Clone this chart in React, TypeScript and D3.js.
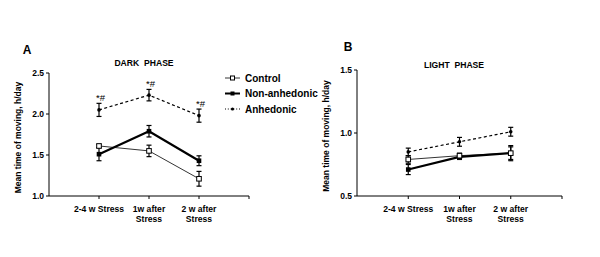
import React from "react";
import * as d3 from "d3";

const categories = [["2-4 w Stress"], ["1w after", "Stress"], ["2 w after", "Stress"]];
const seriesNames = ["Control", "Non-anhedonic", "Anhedonic"];

// Panel A (dark phase)
const darkControl = [1.61, 1.55, 1.21];
const darkControlErr = [0.02, 0.07, 0.09];
const darkNonAnh = [1.51, 1.79, 1.43];
const darkNonAnhErr = [0.08, 0.07, 0.06];
const darkAnh = [2.05, 2.23, 1.98];
const darkAnhErr = [0.08, 0.07, 0.08];
const darkAnnot = ["*#", "*#", "*#"];
const darkTicks = [1.0, 1.5, 2.0, 2.5];

// Panel B (light phase)
const lightControl = [0.79, 0.82, 0.84];
const lightControlErr = [0.03, 0.02, 0.06];
const lightNonAnh = [0.71, 0.81, 0.84];
const lightNonAnhErr = [0.04, 0.02, 0.05];
const lightAnh = [0.85, 0.93, 1.01];
const lightAnhErr = [0.03, 0.035, 0.035];
const lightTicks = [0.5, 1.0, 1.5];

const FONT = "'Liberation Sans', Arial, sans-serif";

type PanelProps = {
  x0: number; x1: number; yTop: number; yBot: number;
  domain: [number, number]; ticks: number[];
  title: string; titleX: number; titleY: number; letter: string; letterX: number; letterY: number;
  control: number[]; controlErr: number[];
  nonAnh: number[]; nonAnhErr: number[];
  anh: number[]; anhErr: number[];
  annot?: string[];
};

function Panel(p: PanelProps) {
  const x = d3.scaleLinear().domain([0, 4]).range([p.x0, p.x1]);
  const y = d3.scaleLinear().domain(p.domain).range([p.yBot, p.yTop]);
  const line = d3.line<number>().x((_, i) => x(i + 1)).y((d) => y(d));
  const idx = [0, 1, 2];

  const errBars = (vals: number[], errs: number[], w: number) =>
    vals.map((v, i) => {
      const cx = x(i + 1);
      const t = y(v + errs[i]);
      const b = y(v - errs[i]);
      return (
        <g key={i} stroke="#000" strokeWidth={w}>
          <line x1={cx} x2={cx} y1={t} y2={b} />
          <line x1={cx - 2.5} x2={cx + 2.5} y1={t} y2={t} />
          <line x1={cx - 2.5} x2={cx + 2.5} y1={b} y2={b} />
        </g>
      );
    });

  return (
    <g fontFamily={FONT} fontWeight="bold" fill="#000">
      <text x={p.letterX} y={p.letterY} fontSize={12} textAnchor="middle">{p.letter}</text>
      <text x={p.titleX} y={p.titleY} fontSize={8.6} textAnchor="middle" style={{ whiteSpace: "pre" }}>{p.title}</text>
      {/* y axis */}
      <line x1={p.x0} x2={p.x0} y1={p.yTop} y2={p.yBot} stroke="#000" strokeWidth={1} />
      {p.ticks.map((t) => (
        <g key={t}>
          <line x1={p.x0 - 3} x2={p.x0} y1={y(t)} y2={y(t)} stroke="#000" />
          <text x={p.x0 - 5} y={y(t)} dy="0.35em" fontSize={8.5} textAnchor="end">{t.toFixed(1)}</text>
        </g>
      ))}
      <text transform={`translate(${p.x0 - 28},${(p.yTop + p.yBot) / 2 + 3}) rotate(-90)`} fontSize={8.5} textAnchor="middle">
        Mean time of moving, h/day
      </text>
      {/* x axis */}
      <line x1={p.x0} x2={p.x1} y1={p.yBot} y2={p.yBot} stroke="#000" strokeWidth={1} />
      {[1, 2, 3, 4].map((i) => (
        <line key={i} x1={x(i)} x2={x(i)} y1={p.yBot} y2={p.yBot + 3} stroke="#000" />
      ))}
      {categories.map((c, i) => (
        <text key={i} x={x(i + 1)} y={p.yBot + 16} fontSize={8.6} textAnchor="middle">
          {c.map((s, j) => (
            <tspan key={j} x={x(i + 1)} dy={j === 0 ? 0 : 10}>{s}</tspan>
          ))}
        </text>
      ))}
      {/* series */}
      <path d={line(p.anh) || ""} fill="none" stroke="#000" strokeWidth={1.2} strokeDasharray="3,2.5" />
      <path d={line(p.control) || ""} fill="none" stroke="#000" strokeWidth={0.8} />
      <path d={line(p.nonAnh) || ""} fill="none" stroke="#000" strokeWidth={2.2} />
      {errBars(p.anh, p.anhErr, 1.2)}
      {errBars(p.control, p.controlErr, 1.2)}
      {errBars(p.nonAnh, p.nonAnhErr, 1.2)}
      {idx.map((i) => (
        <circle key={"a" + i} cx={x(i + 1)} cy={y(p.anh[i])} r={1.8} fill="#000" />
      ))}
      {idx.map((i) => (
        <rect key={"n" + i} x={x(i + 1) - 2.3} y={y(p.nonAnh[i]) - 2.3} width={4.6} height={4.6} fill="#000" />
      ))}
      {idx.map((i) => (
        <rect key={"c" + i} x={x(i + 1) - 2.3} y={y(p.control[i]) - 2.3} width={4.6} height={4.6} fill="#fff" stroke="#000" strokeWidth={1} />
      ))}
      {p.annot && p.annot.map((a, i) => (
        <text key={"t" + i} x={x(i + 1) - 3} y={y(p.anh[i] + p.anhErr[i]) - 2} fontSize={9.5} fontWeight="normal" fill="#000">{a}</text>
      ))}
    </g>
  );
}

export default function App() {
  const legendX = 225;
  const legendRows = [78, 93.5, 109];
  return (
    <svg width={600} height={257} style={{ position: "absolute", left: 0, top: 0, background: "#fff" }}>
      <rect width={600} height={257} fill="#fff" />
      <Panel
        x0={49} x1={249} yTop={73} yBot={196} domain={[1.0, 2.5]} ticks={darkTicks}
        title="DARK  PHASE" titleX={144} titleY={66} letter="A" letterX={27} letterY={54}
        control={darkControl} controlErr={darkControlErr}
        nonAnh={darkNonAnh} nonAnhErr={darkNonAnhErr}
        anh={darkAnh} anhErr={darkAnhErr} annot={darkAnnot}
      />
      <Panel
        x0={357} x1={562} yTop={70} yBot={196} domain={[0.5, 1.5]} ticks={lightTicks}
        title="LIGHT  PHASE" titleX={454} titleY={68} letter="B" letterX={348} letterY={51}
        control={lightControl} controlErr={lightControlErr}
        nonAnh={lightNonAnh} nonAnhErr={lightNonAnhErr}
        anh={lightAnh} anhErr={lightAnhErr}
      />
      {/* legend */}
      <g fontFamily={FONT} fontWeight="bold" fontSize={10} fill="#000">
        {seriesNames.map((s, i) => (
          <g key={s}>
            {i === 0 && (
              <g>
                <line x1={legendX} x2={legendX + 15} y1={legendRows[i]} y2={legendRows[i]} stroke="#000" strokeWidth={0.8} />
                <rect x={legendX + 5.5} y={legendRows[i] - 2} width={4} height={4} fill="#fff" stroke="#000" strokeWidth={1} />
              </g>
            )}
            {i === 1 && (
              <g>
                <line x1={legendX} x2={legendX + 15} y1={legendRows[i]} y2={legendRows[i]} stroke="#000" strokeWidth={2} />
                <rect x={legendX + 5.5} y={legendRows[i] - 2} width={4} height={4} fill="#000" />
              </g>
            )}
            {i === 2 && (
              <g>
                <line x1={legendX} x2={legendX + 15} y1={legendRows[i]} y2={legendRows[i]} stroke="#000" strokeWidth={1} strokeDasharray="1,1.8" />
                <circle cx={legendX + 7.5} cy={legendRows[i]} r={1.6} fill="#000" />
              </g>
            )}
            <text x={legendX + 20} y={legendRows[i]} dy="0.35em">{s}</text>
          </g>
        ))}
      </g>
    </svg>
  );
}
